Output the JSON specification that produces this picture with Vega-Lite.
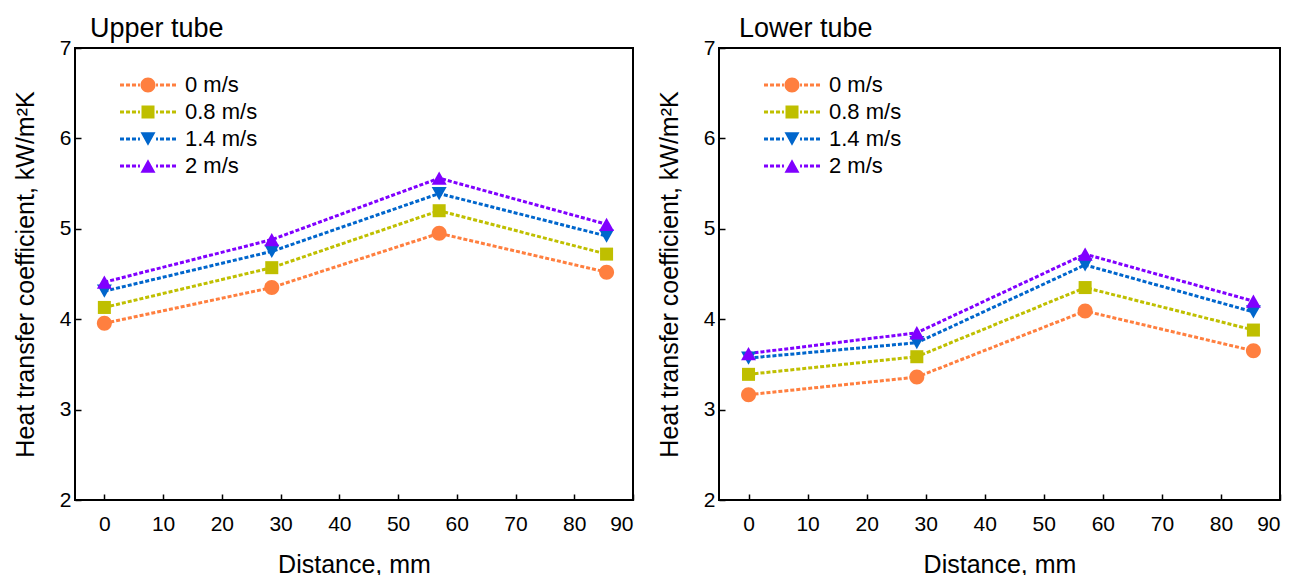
{
  "$schema": "https://vega.github.io/schema/vega-lite/v6.json",
  "background": "white",
  "padding": {"left": 12, "top": 14, "right": 5, "bottom": 0},
  "spacing": 21,
  "config": {
    "font": "Liberation Sans",
    "view": {"stroke": "black", "strokeWidth": 2},
    "axis": {
      "domain": false,
      "grid": false,
      "tickColor": "black",
      "tickSize": -6,
      "tickWidth": 1.5,
      "labelFont": "Liberation Sans",
      "labelFontSize": 21,
      "labelColor": "black",
      "titleFont": "Liberation Sans",
      "titleFontSize": 25,
      "titleFontWeight": "normal",
      "titleColor": "black"
    },
    "axisX": {"labelPadding": 19, "titlePadding": 18},
    "axisY": {"labelPadding": 10, "titlePadding": 21},
    "legend": {
      "title": null, "orient": "none", "legendX": 62, "legendY": 26, "padding": 0,
      "labelFont": "Liberation Sans", "labelFontSize": 22, "labelColor": "black", "labelOffset": 26,
      "rowPadding": 5, "symbolSize": 196, "symbolStrokeWidth": 0, "symbolOpacity": 1
    },
    "title": {"font": "Liberation Sans", "fontSize": 27, "fontWeight": "normal", "color": "black", "anchor": "start", "frame": "group", "offset": -6}
  },
  "datasets": {
    "ht": [
      {"tube": "Upper", "speed": "0 m/s", "d": 0, "h": 3.955},
      {"tube": "Upper", "speed": "0 m/s", "d": 28.5, "h": 4.35},
      {"tube": "Upper", "speed": "0 m/s", "d": 57, "h": 4.95},
      {"tube": "Upper", "speed": "0 m/s", "d": 85.5, "h": 4.52},
      {"tube": "Upper", "speed": "0.8 m/s", "d": 0, "h": 4.13},
      {"tube": "Upper", "speed": "0.8 m/s", "d": 28.5, "h": 4.57},
      {"tube": "Upper", "speed": "0.8 m/s", "d": 57, "h": 5.2},
      {"tube": "Upper", "speed": "0.8 m/s", "d": 85.5, "h": 4.72},
      {"tube": "Upper", "speed": "1.4 m/s", "d": 0, "h": 4.31},
      {"tube": "Upper", "speed": "1.4 m/s", "d": 28.5, "h": 4.75},
      {"tube": "Upper", "speed": "1.4 m/s", "d": 57, "h": 5.39},
      {"tube": "Upper", "speed": "1.4 m/s", "d": 85.5, "h": 4.92},
      {"tube": "Upper", "speed": "2 m/s", "d": 0, "h": 4.41},
      {"tube": "Upper", "speed": "2 m/s", "d": 28.5, "h": 4.88},
      {"tube": "Upper", "speed": "2 m/s", "d": 57, "h": 5.56},
      {"tube": "Upper", "speed": "2 m/s", "d": 85.5, "h": 5.05},
      {"tube": "Lower", "speed": "0 m/s", "d": 0, "h": 3.165},
      {"tube": "Lower", "speed": "0 m/s", "d": 28.5, "h": 3.36},
      {"tube": "Lower", "speed": "0 m/s", "d": 57, "h": 4.09},
      {"tube": "Lower", "speed": "0 m/s", "d": 85.5, "h": 3.65},
      {"tube": "Lower", "speed": "0.8 m/s", "d": 0, "h": 3.39},
      {"tube": "Lower", "speed": "0.8 m/s", "d": 28.5, "h": 3.585},
      {"tube": "Lower", "speed": "0.8 m/s", "d": 57, "h": 4.35},
      {"tube": "Lower", "speed": "0.8 m/s", "d": 85.5, "h": 3.88},
      {"tube": "Lower", "speed": "1.4 m/s", "d": 0, "h": 3.57},
      {"tube": "Lower", "speed": "1.4 m/s", "d": 28.5, "h": 3.74},
      {"tube": "Lower", "speed": "1.4 m/s", "d": 57, "h": 4.6},
      {"tube": "Lower", "speed": "1.4 m/s", "d": 85.5, "h": 4.08},
      {"tube": "Lower", "speed": "2 m/s", "d": 0, "h": 3.62},
      {"tube": "Lower", "speed": "2 m/s", "d": 28.5, "h": 3.85},
      {"tube": "Lower", "speed": "2 m/s", "d": 57, "h": 4.72},
      {"tube": "Lower", "speed": "2 m/s", "d": 85.5, "h": 4.2}
    ]
  },
  "resolve": {"legend": {"color": "independent"}},
  "hconcat": [
    {
      "width": 558,
      "height": 452,
      "title": {"text": "Upper tube", "dx": 15},
      "data": {"name": "ht"},
      "transform": [{"filter": "datum.tube === 'Upper'"}],
      "encoding": {
        "x": {"field": "d", "type": "quantitative", "scale": {"domain": [-5, 90], "nice": false, "zero": false}, "axis": {"title": "Distance, mm", "values": [0, 10, 20, 30, 40, 50, 60, 70, 80, 90]}},
        "y": {"field": "h", "type": "quantitative", "scale": {"domain": [2, 7], "nice": false, "zero": false}, "axis": {"title": "Heat transfer coefficient, kW/m²K", "values": [2, 3, 4, 5, 6, 7]}},
        "color": {"field": "speed", "type": "nominal", "scale": {"domain": ["0 m/s", "0.8 m/s", "1.4 m/s", "2 m/s"], "range": ["#FF7F3F", "#BFBF00", "#0066CC", "#8000FF"]},
          "legend": {"encode": {"symbols": {"update": {
            "shape": {"signal": "'M-4,-0.21H-3.43V0.21H-4Z M-3.14,-0.21H-2.57V0.21H-3.14Z M-2.29,-0.21H-1.71V0.21H-2.29Z M-1.43,-0.21H-1.15V0.21H-1.43Z M1.15,-0.21H1.43V0.21H1.15Z M1.71,-0.21H2.29V0.21H1.71Z M2.57,-0.21H3.14V0.21H2.57Z M3.43,-0.21H4V0.21H3.43Z ' + (datum.value === '0 m/s' ? 'M-1.07,0A1.07,1.07,0,1,0,1.07,0A1.07,1.07,0,1,0,-1.07,0Z' : datum.value === '0.8 m/s' ? 'M-0.93,-0.93H0.93V0.93H-0.93Z' : datum.value === '1.4 m/s' ? 'M-1.07,-0.95H1.07L0,0.95Z' : 'M0,-0.95L1.07,0.95H-1.07Z')"},
            "fill": {"signal": "datum.value === '0 m/s' ? '#FF7F3F' : datum.value === '0.8 m/s' ? '#BFBF00' : datum.value === '1.4 m/s' ? '#0066CC' : '#8000FF'"},
            "strokeWidth": {"value": 0},
            "opacity": {"value": 1}
          }}}}
        }
      },
      "layer": [
        {"mark": {"type": "line", "strokeDash": [4, 2], "strokeWidth": 3}},
        {"transform": [{"filter": "datum.speed === '0 m/s'"}], "mark": {"type": "point", "filled": true, "size": 196, "opacity": 1, "strokeWidth": 0, "shape": "M-1.07,0A1.07,1.07,0,1,0,1.07,0A1.07,1.07,0,1,0,-1.07,0Z"}},
        {"transform": [{"filter": "datum.speed === '0.8 m/s'"}], "mark": {"type": "point", "filled": true, "size": 196, "opacity": 1, "strokeWidth": 0, "shape": "M-0.93,-0.93H0.93V0.93H-0.93Z"}},
        {"transform": [{"filter": "datum.speed === '1.4 m/s'"}], "mark": {"type": "point", "filled": true, "size": 196, "opacity": 1, "strokeWidth": 0, "shape": "M-1.07,-0.95H1.07L0,0.95Z"}},
        {"transform": [{"filter": "datum.speed === '2 m/s'"}], "mark": {"type": "point", "filled": true, "size": 196, "opacity": 1, "strokeWidth": 0, "shape": "M0,-0.95L1.07,0.95H-1.07Z"}}
      ]
    },
    {
      "width": 561,
      "height": 452,
      "title": {"text": "Lower tube", "dx": 20},
      "data": {"name": "ht"},
      "transform": [{"filter": "datum.tube === 'Lower'"}],
      "encoding": {
        "x": {"field": "d", "type": "quantitative", "scale": {"domain": [-5, 90], "nice": false, "zero": false}, "axis": {"title": "Distance, mm", "values": [0, 10, 20, 30, 40, 50, 60, 70, 80, 90]}},
        "y": {"field": "h", "type": "quantitative", "scale": {"domain": [2, 7], "nice": false, "zero": false}, "axis": {"title": "Heat transfer coefficient, kW/m²K", "values": [2, 3, 4, 5, 6, 7]}},
        "color": {"field": "speed", "type": "nominal", "scale": {"domain": ["0 m/s", "0.8 m/s", "1.4 m/s", "2 m/s"], "range": ["#FF7F3F", "#BFBF00", "#0066CC", "#8000FF"]},
          "legend": {"encode": {"symbols": {"update": {
            "shape": {"signal": "'M-4,-0.21H-3.43V0.21H-4Z M-3.14,-0.21H-2.57V0.21H-3.14Z M-2.29,-0.21H-1.71V0.21H-2.29Z M-1.43,-0.21H-1.15V0.21H-1.43Z M1.15,-0.21H1.43V0.21H1.15Z M1.71,-0.21H2.29V0.21H1.71Z M2.57,-0.21H3.14V0.21H2.57Z M3.43,-0.21H4V0.21H3.43Z ' + (datum.value === '0 m/s' ? 'M-1.07,0A1.07,1.07,0,1,0,1.07,0A1.07,1.07,0,1,0,-1.07,0Z' : datum.value === '0.8 m/s' ? 'M-0.93,-0.93H0.93V0.93H-0.93Z' : datum.value === '1.4 m/s' ? 'M-1.07,-0.95H1.07L0,0.95Z' : 'M0,-0.95L1.07,0.95H-1.07Z')"},
            "fill": {"signal": "datum.value === '0 m/s' ? '#FF7F3F' : datum.value === '0.8 m/s' ? '#BFBF00' : datum.value === '1.4 m/s' ? '#0066CC' : '#8000FF'"},
            "strokeWidth": {"value": 0},
            "opacity": {"value": 1}
          }}}}
        }
      },
      "layer": [
        {"mark": {"type": "line", "strokeDash": [4, 2], "strokeWidth": 3}},
        {"transform": [{"filter": "datum.speed === '0 m/s'"}], "mark": {"type": "point", "filled": true, "size": 196, "opacity": 1, "strokeWidth": 0, "shape": "M-1.07,0A1.07,1.07,0,1,0,1.07,0A1.07,1.07,0,1,0,-1.07,0Z"}},
        {"transform": [{"filter": "datum.speed === '0.8 m/s'"}], "mark": {"type": "point", "filled": true, "size": 196, "opacity": 1, "strokeWidth": 0, "shape": "M-0.93,-0.93H0.93V0.93H-0.93Z"}},
        {"transform": [{"filter": "datum.speed === '1.4 m/s'"}], "mark": {"type": "point", "filled": true, "size": 196, "opacity": 1, "strokeWidth": 0, "shape": "M-1.07,-0.95H1.07L0,0.95Z"}},
        {"transform": [{"filter": "datum.speed === '2 m/s'"}], "mark": {"type": "point", "filled": true, "size": 196, "opacity": 1, "strokeWidth": 0, "shape": "M0,-0.95L1.07,0.95H-1.07Z"}}
      ]
    }
  ]
}
